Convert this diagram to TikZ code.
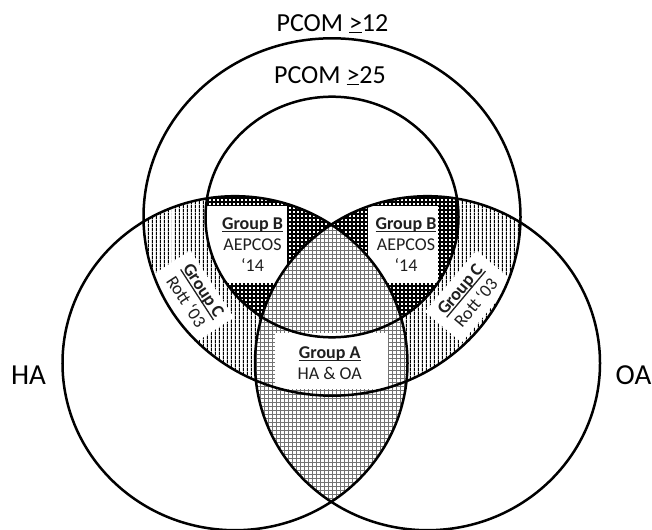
\documentclass[tikz,border=0pt]{standalone}
\usepackage{fontspec}
\setmainfont{Carlito}
\usetikzlibrary{patterns.meta}

% text with a rule set just under its baseline: #1 rule offset, #2 rule thickness
\newsavebox\ulinebox
\newcommand\ruledtext[3]{\sbox\ulinebox{#3}\rlap{\rule[#1]{\wd\ulinebox}{#2}}\usebox\ulinebox}
\newcommand\grptitle[1]{\ruledtext{-2.7bp}{1.3bp}{\textbf{#1}}}

\tikzset{
  ring/.style={draw=black, line width=2.5bp},
  hatchC/.style={pattern={Lines[angle=90,distance=3.6bp,line width=1.15bp]}, pattern color=black},
  hatchB/.style={preaction={fill=white}, pattern={Hatch[angle=0,distance=4bp,line width=1.4bp]}, pattern color=black},
  hatchA/.style={preaction={fill=white}, pattern={Hatch[angle=0,distance=4bp,line width=0.8bp]}, pattern color=black!55},
  whitebox/.style={fill=white, draw=none, inner sep=0pt},
  grp/.style={font=\fontsize{18bp}{21bp}\selectfont, inner sep=0pt, anchor=base, text=black!88},
  setlabel/.style={font=\fontsize{27bp}{30bp}\selectfont, inner sep=0pt, anchor=base, text=black},
  bigR/.style={x radius=188.5bp, y radius=178.7bp},
  smallR/.style={x radius=126.5bp, y radius=120.3bp},
  sideR/.style={x radius=172.5bp, y radius=167bp},
}

\begin{document}
\begin{tikzpicture}[x=1bp, y=-1bp]
\useasboundingbox (0,0) rectangle (652,530);

\coordinate (cBig)   at (332,217);
\coordinate (cSmall) at (332,217);
\coordinate (cHA)    at (235,363.2);
\coordinate (cOA)    at (427.5,363.2);

% Group C: PCOM >= 12 parts lying in HA or OA
\begin{scope}
  \clip (cBig) ellipse [bigR];
  \path[hatchC] (cHA) ellipse [sideR];
  \path[hatchC] (cOA) ellipse [sideR];
  \node[whitebox, rotate=-57, minimum width=80bp, minimum height=48bp] (boxCl) at (192,297) {};
  \node[whitebox, rotate=50, minimum width=80bp, minimum height=48bp] (boxCr) at (469,296.5) {};
\end{scope}

% Group B: PCOM >= 25 parts lying in HA or OA
\begin{scope}
  \clip (cSmall) ellipse [smallR];
  \path[hatchB] (cHA) ellipse [sideR];
  \path[hatchB] (cOA) ellipse [sideR];
  \node[whitebox, minimum width=87bp, minimum height=77bp] (boxBl) at (243.5,244.5) {};
  \node[whitebox, minimum width=70bp, minimum height=77bp] (boxBr) at (403,244.5) {};
\end{scope}

% Group A: HA and OA
\begin{scope}
  \clip (cHA) ellipse [sideR];
  \path[hatchA] (cOA) ellipse [sideR];
\end{scope}
\node[whitebox, minimum width=113bp, minimum height=56bp] (boxA) at (331.5,361) {};

% outlines
\draw[ring] (cBig) ellipse [bigR];
\draw[ring] (cSmall) ellipse [smallR];
\draw[ring] (cHA) ellipse [sideR];
\draw[ring] (cOA) ellipse [sideR];

% set names
\node[setlabel, font=\fontsize{26bp}{30bp}\selectfont] (pcomA) at (332.5,31.7) {PCOM \ruledtext{-1.8bp}{1.5bp}{>}12};
\node[setlabel, font=\fontsize{26bp}{30bp}\selectfont] (pcomB) at (330,83.3) {PCOM \ruledtext{-1.8bp}{1.5bp}{>}25};
\node[setlabel, font=\fontsize{29bp}{30bp}\selectfont] (ha) at (28.5,384) {HA};
\node[setlabel, font=\fontsize{29bp}{30bp}\selectfont] (oa) at (633.5,384) {OA};

% Group B, left and right
\node[grp] (bl1) at (252.5,229.3) {\grptitle{Group B}};
\node[grp] (bl2) at (252.5,251) {AEPCOS};
\node[grp] (bl3) at (252.5,271.7) {‘14};
\node[grp] (br1) at (406,229.3) {\grptitle{Group B}};
\node[grp] (br2) at (406,251) {AEPCOS};
\node[grp] (br3) at (406,271.7) {‘14};

% Group A
\node[grp] (a1) at (329.7,358.3) {\grptitle{Group A}};
\node[grp] (a2) at (329.7,379.3) {HA \& OA};

% Group C, set along the band
\node[grp, rotate=-57] (cl1) at (198.8,293.6) {\grptitle{Group C}};
\node[grp, rotate=-57] (cl2) at (181.2,305) {Rott ‘03};
\node[grp, rotate=50] (cr1) at (464.5,292.9) {\grptitle{Group C}};
\node[grp, rotate=50] (cr2) at (480.5,306.5) {Rott ‘03};
\end{tikzpicture}
\end{document}
